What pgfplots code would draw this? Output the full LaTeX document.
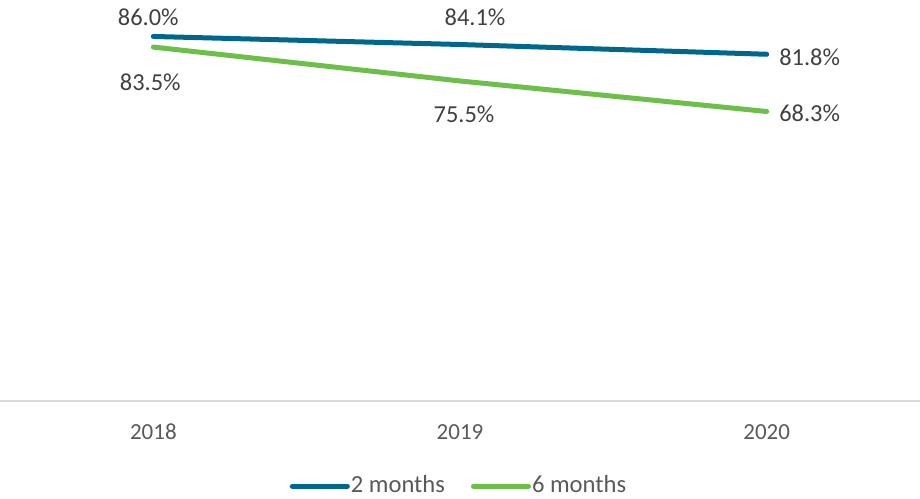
\documentclass[border=0pt]{standalone}
\usepackage{pgfplots}
\pgfplotsset{compat=1.18}
\usepackage{fontspec}
\setmainfont{Carlito}
\definecolor{cblue}{RGB}{0,103,140}
\definecolor{cgreen}{RGB}{108,192,74}
\definecolor{ctext}{RGB}{64,64,64}
\definecolor{ctick}{RGB}{89,89,89}
\definecolor{caxis}{RGB}{217,217,217}
\begin{document}
\fontsize{11.5}{13.8}\selectfont
\begin{tikzpicture}
\useasboundingbox (0,0) rectangle (460pt,-249pt);
\begin{axis}[
  at={(0,0)}, anchor=north west,
  scale only axis, width=460pt, height=200.5pt,
  xmin=-0.5, xmax=2.5, ymin=0, ymax=94.6,
  axis lines=none,
  clip=false,
  xtick=\empty, ytick=\empty,
  legend style={at={(0.5,-0.212)}, anchor=center, draw=none, fill=none,
    legend columns=2, font=\fontsize{12.3}{14.5}\selectfont\color{ctick},
    /tikz/every even column/.append style={column sep=11pt},
    inner sep=0pt},
  legend image code/.code={\draw[#1, line cap=round] (0pt,0pt) -- (27.5pt,0pt);},
]
\draw[caxis, line width=0.75pt] (axis cs:-0.5,0) -- (axis cs:2.5,0);
\node[ctick, anchor=center] at (axis cs:0,0) [yshift=-15.5pt] {2018};
\node[ctick, anchor=center] at (axis cs:1,0) [yshift=-15.5pt] {2019};
\node[ctick, anchor=center] at (axis cs:2,0) [yshift=-15.5pt] {2020};
\addplot[cblue, line width=2.5pt, line cap=round] coordinates {(0,86.0) (1,84.1) (2,81.8)};
\addlegendentry{\hspace{-1.5pt}2 months}
\addplot[cgreen, line width=2.5pt, line cap=round] coordinates {(0,83.5) (1,75.5) (2,68.3)};
\addlegendentry{\hspace{-1.5pt}6 months}
\begin{scope}[every node/.style={font=\fontsize{12.2}{14.5}\selectfont, text=ctext}]
\node at (axis cs:0,86.0) [xshift=-2.5pt, yshift=9.5pt] {86.0\%};
\node at (axis cs:1,84.1) [xshift=7.5pt, yshift=13.75pt] {84.1\%};
\node at (axis cs:2,81.8) [xshift=21.5pt, yshift=-1.5pt] {81.8\%};
\node at (axis cs:0,83.5) [xshift=-1.5pt, yshift=-17.5pt] {83.5\%};
\node at (axis cs:1,75.5) [xshift=2pt, yshift=-16.5pt] {75.5\%};
\node at (axis cs:2,68.3) [xshift=21.5pt, yshift=-1pt] {68.3\%};
\end{scope}
\end{axis}
\end{tikzpicture}
\end{document}
